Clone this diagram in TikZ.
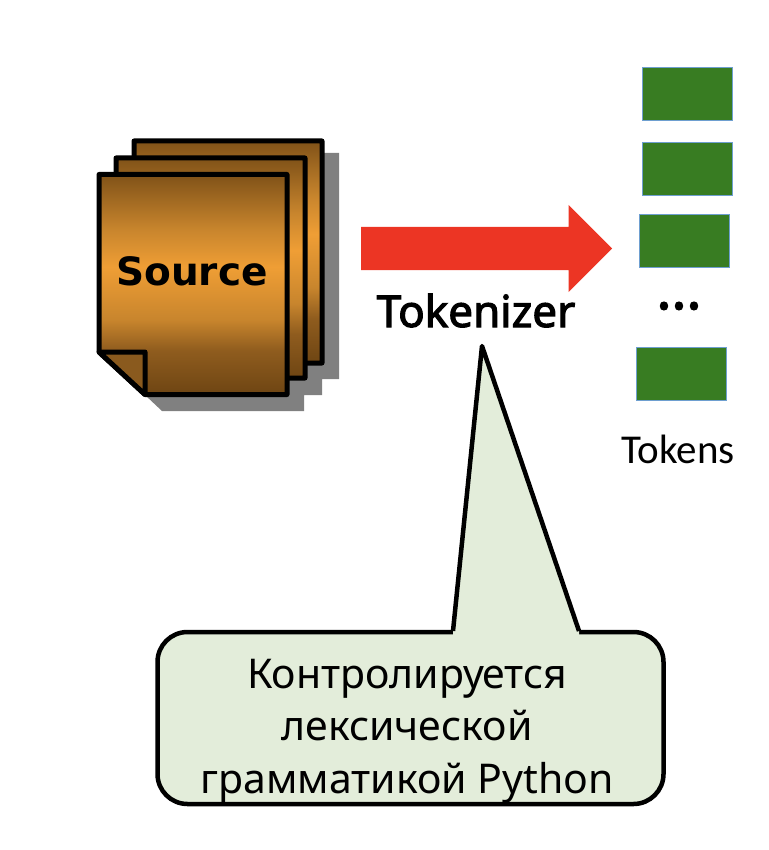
\documentclass[tikz,border=0pt]{standalone}
\usepackage{fontspec}
\setmainfont{Noto Sans}
\newfontfamily\srcfont{DejaVu Sans}
\newfontfamily\tokfont{Carlito}
\newfontfamily\heavyfont[FakeBold=2.5]{Noto Sans}
\usetikzlibrary{shapes.arrows}

\definecolor{pagedark}{HTML}{6E4513}
\definecolor{pagelow}{HTML}{8F5C1E}
\definecolor{pagehalf}{HTML}{C8852D}
\definecolor{pagemid}{HTML}{EF9E35}
\definecolor{pagetop}{HTML}{805218}
\definecolor{foldcol}{HTML}{8A5A1E}
\definecolor{shadowcol}{HTML}{808080}
\definecolor{arrowcol}{HTML}{EC3524}
\definecolor{tokcol}{HTML}{387C22}
\definecolor{tokline}{HTML}{6E9FD0}
\definecolor{notecol}{HTML}{E3EDDA}

\pgfdeclareverticalshading{pageshade}{100bp}{
  color(0bp)=(pagedark); color(25bp)=(pagedark); color(35bp)=(pagelow);
  color(42bp)=(pagehalf); color(54bp)=(pagemid); color(62.5bp)=(pagehalf);
  color(75bp)=(pagetop); color(100bp)=(pagetop)}

\tikzset{
  page/.style={draw=black, line width=5pt, line join=round,
    shade, shading=pageshade},
  tokbox/.style={draw=tokline, line width=1pt, fill=tokcol, inner sep=0pt,
    minimum width=90pt, minimum height=53pt},
  note/.style={draw=black, line width=4.5pt, fill=notecol, rounded corners=30pt,
    inner sep=0pt, minimum width=506pt, minimum height=172pt},
  notetext/.style={anchor=base, font=\fontsize{41}{48}\selectfont}
}

\begin{document}
\begin{tikzpicture}[x=1pt, y=-1pt]
    \useasboundingbox (0,0) rectangle (768,850);

    \fill[shadowcol] (322,153) -- (339,153) -- (339,379) -- (322,379)
      -- (322,395) -- (304,395) -- (304,411) -- (162,411) -- (145,395)
      -- (145,300) -- cycle;

    \path[page] (134,300) -- (134,141) -- (322,141) -- (322,363) -- (200,363) -- cycle;
    \path[page] (116,300) -- (116,158) -- (305,158) -- (305,378) -- (200,378) -- cycle;
    \path[page] (99,174.5) -- (287,174.5) -- (287,394.5) -- (145,394.5)
      -- (99,352) -- cycle;
    \draw[line width=5pt, line join=round, fill=foldcol]
      (99,352) -- (145,352) -- (145,394.5) -- cycle;

    \node[anchor=base, font=\srcfont\bfseries\fontsize{39}{46}\selectfont]
      (source) at (192,285) {Source};

    \node[single arrow, fill=arrowcol, inner xsep=0pt, inner ysep=21.5pt, anchor=west,
      minimum height=251pt,
      single arrow head extend=22pt, single arrow head indent=0pt]
      (flow) at (361,248.5) {};

    \node[anchor=base, font=\heavyfont\fontsize{44}{52}\selectfont]
      (tokenizer) at (476,327) {Tokenizer};

    \node[tokbox] (t1) at (687,94.5) {};
    \node[tokbox] (t2) at (687,169.5) {};
    \node[tokbox] (t3) at (684,241) {};
    \node[anchor=base, font=\heavyfont\fontsize{56}{64}\selectfont]
      (dots) at (679,309) {...};
    \node[tokbox] (t4) at (681.5,373.5) {};
    \node[anchor=base, font=\tokfont\fontsize{41}{48}\selectfont]
      (tokens) at (678,463) {Tokens};

    \node[note] (box) at (410.5,718) {};
    \coordinate (tip) at (482,346);
    \coordinate (pl) at (453,631);
    \coordinate (pr) at (579,631);
    \fill[notecol] (pl) -- (tip) -- (pr) -- (579,636) -- (453,636) -- cycle;
    \draw[line width=4.5pt, line join=round] (pl) -- (tip) -- (pr);

    \node[notetext] (n1) at (407,688) {Контролируется};
    \node[notetext] (n2) at (407,740) {лексической};
    \node[notetext] (n3) at (407,793) {грамматикой Python};
\end{tikzpicture}
\end{document}
